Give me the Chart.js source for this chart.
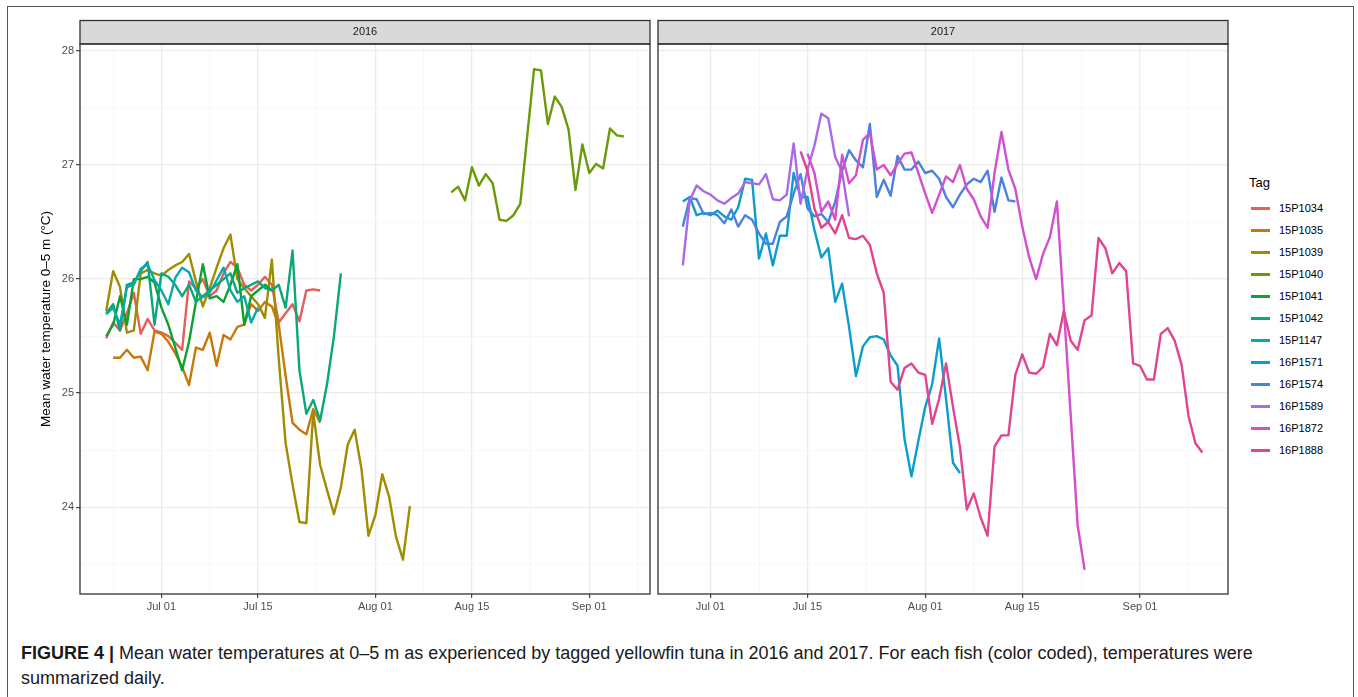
<!DOCTYPE html>
<html>
<head>
<meta charset="utf-8">
<script src="https://cdn.jsdelivr.net/npm/chart.js@4.4.0/dist/chart.umd.min.js"></script>
<style>
  body { margin: 0; background: #fff; font-family: "Liberation Sans", Arial, sans-serif; }
  #frame { position: absolute; left: 7px; top: 6px; width: 1347px; height: 700px; border: 1.5px solid #555; box-sizing: border-box; }
  #c2016 { position: absolute; left: 0; top: 18px; }
  #c2017 { position: absolute; left: 652px; top: 18px; }
  #legend { position: absolute; left: 1249px; top: 173px; }
  #legend .ttl { font-size: 13px; color: #000; height: 24px; line-height: 20px; }
  #legend .item { height: 22px; display: flex; align-items: center; font-size: 11px; color: #000; }
  #legend .sw { width: 19px; height: 3px; margin: 0 9px 0 2px; }
  #caption { position: absolute; left: 21px; top: 641px; font-size: 18px; line-height: 25px; color: #1a1a1a; white-space: nowrap; }
</style>
</head>
<body>
<div id="frame"></div>
<canvas id="c2016" width="652" height="612"></canvas>
<canvas id="c2017" width="580" height="612"></canvas>
<div id="legend"></div>
<div id="caption"><b>FIGURE 4 |</b> Mean water temperatures at 0–5 m as experienced by tagged yellowfin tuna in 2016 and 2017. For each fish (color coded), temperatures were<br>summarized daily.</div>
<script>
// days counted from Jul 01 of each year
const majorXDays = [0, 14, 31, 45, 62];
const majorXLabels = ["Jul 01", "Jul 15", "Aug 01", "Aug 15", "Sep 01"];
const minorXDays = [-7, 7, 22.5, 38, 53.5, 69];
const majorYTicks = [24, 25, 26, 27, 28];
const minorYTicks = [23.5, 24.5, 25.5, 26.5, 27.5];

const tags = ["15P1034", "15P1035", "15P1039", "15P1040", "15P1041", "15P1042",
  "15P1147", "16P1571", "16P1574", "16P1589", "16P1872", "16P1888"];
const tagColors = ["#E0605A", "#C8780A", "#A08C00", "#6A9A0A", "#0EA030", "#0AA77A",
  "#0AA9A9", "#0A9ECF", "#4A82E0", "#A86AE8", "#D24FD0", "#E0458F"];

// 2016
const start15P1034 = -8;
const temp15P1034 = [25.48, 25.62, 25.55, 25.7, 25.88, 25.52, 25.65, 25.55, 25.53, 25.5, 25.44, 25.38,
  25.98, 25.92, 26.0, 25.85, 25.9, 26.05, 26.15, 26.1, 25.95, 25.9, 25.95, 26.02, 25.95, 25.62,
  25.7, 25.78, 25.63, 25.9, 25.91, 25.9];
const start15P1035 = -7;
const temp15P1035 = [25.31, 25.31, 25.38, 25.31, 25.32, 25.2, 25.54, 25.52, 25.45, 25.35, 25.23, 25.07,
  25.4, 25.38, 25.53, 25.24, 25.51, 25.47, 25.58, 25.6, 25.78, 25.72, 25.8, 25.76, 25.6, 25.15,
  24.74, 24.68, 24.64, 24.86, 24.74];
const start15P1039 = -8;
const temp15P1039 = [25.72, 26.07, 25.93, 25.53, 25.55, 26.05, 26.08, 26.05, 26.03, 26.08, 26.12, 26.15,
  26.22, 25.98, 25.76, 25.92, 26.1, 26.27, 26.39, 26.0, 25.92, 25.85, 25.78, 25.66, 26.17, 25.3,
  24.56, 24.2, 23.87, 23.86, 24.83, 24.37, 24.15, 23.94, 24.17, 24.55, 24.68, 24.33, 23.75, 23.93,
  24.29, 24.09, 23.74, 23.54, 24.01];
const start15P1040 = 42;
const temp15P1040 = [26.76, 26.81, 26.69, 26.98, 26.82, 26.92, 26.84, 26.52, 26.51, 26.56, 26.66, 27.25,
  27.84, 27.83, 27.36, 27.6, 27.51, 27.31, 26.78, 27.18, 26.93, 27.01, 26.97, 27.32, 27.26, 27.25];
const start15P1041 = -8;
const temp15P1041 = [25.5, 25.6, 25.85, 25.6, 26.0, 26.0, 26.02, 25.97, 25.75, 25.6, 25.4, 25.2,
  25.45, 25.8, 26.13, 25.83, 25.85, 25.8, 25.95, 26.13, 25.6, 25.85, 25.9, 25.95, 25.9];
const start15P1042 = -8;
const temp15P1042 = [25.7, 25.78, 25.55, 25.95, 25.97, 26.07, 26.15, 25.6, 26.05, 26.02, 25.95, 25.85,
  25.95, 25.8, 25.85, 25.9, 25.95, 26.0, 26.05, 25.88, 25.92, 25.95, 25.98, 25.92, 25.9, 25.95,
  25.75, 26.25, 25.2, 24.82, 24.94, 24.76, 25.08, 25.5, 26.05];
const start15P1147 = -8;
const temp15P1147 = [25.69, 25.75, 25.6, 25.93, 25.95, 26.09, 26.13, 25.99, 25.9, 25.78, 26.01, 26.1,
  26.06, 25.9, 25.84, 25.88, 25.99, 26.1, 25.9, 25.8, 25.85, 25.62, 25.75];

// 2017
const start16P1571 = -4;
const temp16P1571 = [26.68, 26.72, 26.56, 26.58, 26.56, 26.6, 26.55, 26.52, 26.63, 26.88, 26.87, 26.18,
  26.4, 26.12, 26.38, 26.38, 26.93, 26.72, 26.72, 26.43, 26.19, 26.27, 25.8, 25.96, 25.58, 25.15,
  25.41, 25.49, 25.5, 25.47, 25.33, 25.24, 24.6, 24.27, 24.58, 24.88, 25.08, 25.48, 24.95, 24.39, 24.3];
const start16P1574 = -4;
const temp16P1574 = [26.46, 26.71, 26.7, 26.57, 26.58, 26.56, 26.49, 26.61, 26.46, 26.56, 26.52, 26.4,
  26.31, 26.31, 26.5, 26.55, 26.75, 26.92, 26.62, 26.55, 26.57, 26.5, 26.68, 26.95, 27.13, 27.04,
  26.98, 27.36, 26.72, 26.87, 26.73, 27.08, 26.96, 26.96, 27.03, 26.93, 26.95, 26.88, 26.72, 26.63,
  26.74, 26.83, 26.88, 26.85, 26.95, 26.59, 26.89, 26.69, 26.68];
const start16P1589 = -4;
const temp16P1589 = [26.12, 26.69, 26.82, 26.77, 26.74, 26.69, 26.66, 26.71, 26.75, 26.85, 26.84, 26.83,
  26.92, 26.7, 26.69, 26.74, 27.19, 26.66, 26.96, 27.17, 27.45, 27.41, 27.07, 26.94, 26.55];
const start16P1872 = 14;
const temp16P1872 = [27.1, 26.93, 26.59, 26.68, 26.52, 27.09, 26.84, 26.91, 27.22, 27.28, 26.96, 27.0,
  26.91, 27.01, 27.1, 27.11, 26.93, 26.75, 26.58, 26.74, 26.9, 26.85, 27.0, 26.79, 26.7, 26.55,
  26.45, 26.93, 27.29, 26.96, 26.79, 26.46, 26.19, 26.0, 26.22, 26.37, 26.68, 25.75, 24.8, 23.84, 23.45];
const start16P1888 = 13;
const temp16P1888 = [27.12, 26.95, 26.62, 26.45, 26.5, 26.4, 26.56, 26.36, 26.35, 26.38, 26.3, 26.05,
  25.88, 25.1, 25.03, 25.22, 25.26, 25.18, 25.16, 24.73, 24.95, 25.26, 24.88, 24.53, 23.98, 24.12,
  23.91, 23.75, 24.53, 24.63, 24.63, 25.16, 25.34, 25.18, 25.17, 25.23, 25.52, 25.42, 25.72, 25.46,
  25.38, 25.64, 25.68, 26.36, 26.27, 26.05, 26.14, 26.07, 25.26, 25.24, 25.12, 25.12, 25.52, 25.57,
  25.46, 25.25, 24.8, 24.56, 24.48];

const series2016 = [
  ["15P1034", start15P1034, temp15P1034],
  ["15P1035", start15P1035, temp15P1035],
  ["15P1039", start15P1039, temp15P1039],
  ["15P1040", start15P1040, temp15P1040],
  ["15P1041", start15P1041, temp15P1041],
  ["15P1042", start15P1042, temp15P1042],
  ["15P1147", start15P1147, temp15P1147]
];
const series2017 = [
  ["16P1571", start16P1571, temp16P1571],
  ["16P1574", start16P1574, temp16P1574],
  ["16P1589", start16P1589, temp16P1589],
  ["16P1872", start16P1872, temp16P1872],
  ["16P1888", start16P1888, temp16P1888]
];

const FONT = "'Liberation Sans', Arial, sans-serif";

const panelFrame = {
  id: "panelFrame",
  afterDraw(chart, args, opts) {
    const { ctx, chartArea: a } = chart;
    const stripH = 23.5;
    ctx.save();
    ctx.fillStyle = "#d9d9d9";
    ctx.fillRect(a.left, a.top - stripH, a.right - a.left, stripH);
    ctx.strokeStyle = "#333";
    ctx.lineWidth = 1.3;
    ctx.strokeRect(a.left, a.top - stripH, a.right - a.left, stripH);
    ctx.strokeRect(a.left, a.top, a.right - a.left, a.bottom - a.top);
    ctx.fillStyle = "#1a1a1a";
    ctx.font = "11px " + FONT;
    ctx.textAlign = "center";
    ctx.textBaseline = "middle";
    ctx.fillText(opts.label, (a.left + a.right) / 2, a.top - stripH / 2);
    ctx.restore();
  }
};

const makeDatasets = (series) => series.map(([tag, start, temps]) => {
  const i = tags.indexOf(tag);
  return {
    label: tag,
    data: temps.map((t, k) => ({ x: start + k, y: t })),
    borderColor: tagColors[i],
    backgroundColor: tagColors[i],
    borderWidth: 2.4,
    pointRadius: 0,
    tension: 0,
    borderJoinStyle: "round",
    order: tags.length - i
  };
});

const makePanel = (id, label, series, xMin, xMax, first) => {
  const xTicks = majorXDays.concat(minorXDays).sort((a, b) => a - b);
  const yTicks = majorYTicks.concat(minorYTicks).sort((a, b) => a - b);
  return new Chart(document.getElementById(id), {
    type: "line",
    data: { datasets: makeDatasets(series) },
    plugins: [panelFrame],
    options: {
      responsive: false,
      animation: false,
      layout: { padding: first ? { left: 38, top: 26, right: 2, bottom: 0 } : { left: 6, top: 26, right: 4, bottom: 0 } },
      plugins: {
        legend: { display: false },
        tooltip: { enabled: false },
        panelFrame: { label }
      },
      scales: {
        x: {
          type: "linear",
          min: xMin,
          max: xMax,
          afterBuildTicks: (s) => { s.ticks = xTicks.map((v) => ({ value: v })); },
          afterFit: (s) => { s.height = 36; },
          ticks: {
            autoSkip: false,
            maxRotation: 0,
            padding: 2,
            color: "#4d4d4d",
            font: { family: FONT, size: 11 },
            callback: (v) => {
              const k = majorXDays.indexOf(v);
              return k >= 0 ? majorXLabels[k] : "";
            }
          },
          grid: {
            color: (c) => (majorXDays.includes(c.tick.value) ? "#ebebeb" : "#f4f4f4"),
            lineWidth: (c) => (majorXDays.includes(c.tick.value) ? 1.3 : 0.7),
            tickLength: 4,
            tickColor: (c) => (majorXDays.includes(c.tick.value) ? "#333" : "rgba(0,0,0,0)"),
            tickWidth: 1.1
          },
          border: { display: false }
        },
        y: {
          type: "linear",
          min: 23.239,
          max: 28.061,
          afterBuildTicks: (s) => { s.ticks = yTicks.map((v) => ({ value: v })); },
          afterFit: (s) => { s.width = first ? 42 : 0; },
          ticks: {
            display: first,
            padding: 2,
            color: "#4d4d4d",
            font: { family: FONT, size: 11 },
            callback: (v) => (majorYTicks.includes(v) ? String(v) : "")
          },
          grid: {
            color: (c) => (majorYTicks.includes(c.tick.value) ? "#ebebeb" : "#f4f4f4"),
            lineWidth: (c) => (majorYTicks.includes(c.tick.value) ? 1.3 : 0.7),
            tickLength: first ? 4 : 0,
            tickColor: (c) => (first && majorYTicks.includes(c.tick.value) ? "#333" : "rgba(0,0,0,0)"),
            tickWidth: 1.1
          },
          border: { display: false },
          title: {
            display: first,
            text: "Mean water temperature 0–5 m (°C)",
            color: "#000",
            font: { family: FONT, size: 13.5 },
            padding: { top: 0, bottom: 2 }
          }
        }
      }
    }
  });
};

makePanel("c2016", "2016", series2016, -11.8, 70.8, true);
makePanel("c2017", "2017", series2017, -7.58, 74.7, false);

// legend
const legend = document.getElementById("legend");
legend.innerHTML = '<div class="ttl">Tag</div>' + tags.map((t, i) =>
  '<div class="item"><span class="sw" style="background:' + tagColors[i] + '"></span>' + t + "</div>").join("");
</script>
</body>
</html>
